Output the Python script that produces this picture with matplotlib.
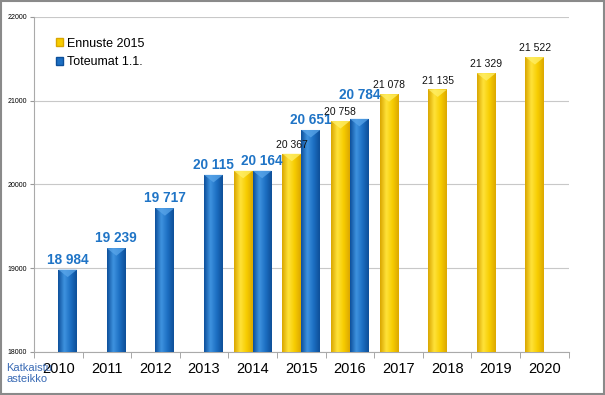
import numpy as np
import matplotlib.pyplot as plt
from matplotlib.colors import LinearSegmentedColormap
from matplotlib.patches import Patch

plt.rcParams['font.family'] = ['Liberation Sans', 'DejaVu Sans']

vuodet = ['2010', '2011', '2012', '2013', '2014', '2015', '2016',
          '2017', '2018', '2019', '2020']
ennuste = [np.nan, np.nan, np.nan, np.nan, 20164, 20367, 20758,
           21078, 21135, 21329, 21522]
toteumat = [18984, 19239, 19717, 20115, 20164, 20651, 20784,
            np.nan, np.nan, np.nan, np.nan]
pohja = 18000  # katkaistu asteikko

keltainen = '#f7cd00'
sininen = '#1c6fc2'
cmap_kelt = LinearSegmentedColormap.from_list('k', ['#d9a600', '#ffe23a', '#f7cd00', '#dca800'])
cmap_sin = LinearSegmentedColormap.from_list('s', ['#0d4f9a', '#3f93e0', '#1c6fc2', '#0e4f98'])


def varjosta(ax, palkit, cmap, karki):
    # liukuväri ja viistetty yläpää, jotta palkit näyttävät 3D:ltä
    grad = np.linspace(0, 1, 64).reshape(1, -1)
    for p in palkit:
        if np.isnan(p.get_height()):
            continue
        x0, y0 = p.get_x(), p.get_y()
        x1, y1 = x0 + p.get_width(), y0 + p.get_height()
        im = ax.imshow(grad, extent=[x0, x1, y0, y1], aspect='auto',
                       cmap=cmap, zorder=3, interpolation='bicubic')
        im.set_clip_path(p)
        p.set_facecolor('none')
        xc = (x0 + x1) / 2
        ax.fill([x0, x1, xc], [y1, y1, y1 - 90], color=karki, alpha=0.75,
                zorder=4, linewidth=0)


fig = plt.figure(figsize=(6.05, 3.95), dpi=100)
ax = fig.add_axes([0.056, 0.109, 0.884, 0.848])

x = np.arange(len(vuodet))
lev = 0.39
b1 = ax.bar(x - lev / 2, np.array(ennuste) - pohja, lev, bottom=pohja,
            color=keltainen, zorder=3)
b2 = ax.bar(x + lev / 2, np.array(toteumat) - pohja, lev, bottom=pohja,
            color=sininen, zorder=3)

varjosta(ax, b1, cmap_kelt, '#fff06a')
varjosta(ax, b2, cmap_sin, '#5aa6ea')
ax.set_ylim(18000, 22000)
ax.set_xlim(-0.5, len(vuodet) - 0.5)


def muotoile(v):
    return f'{int(v):,}'.replace(',', ' ')


for i, (e, t) in enumerate(zip(ennuste, toteumat)):
    yhta = not np.isnan(e) and not np.isnan(t) and e == t
    if not np.isnan(t):
        # nostetaan jos ennusteen arvo on lähes sama
        lahella = not np.isnan(e) and 0 < abs(e - t) < 150
        nosto = 200 if lahella else 35
        ax.text(x[i] + lev / 2, t + nosto, muotoile(t), ha='center', va='bottom',
                color='#1f74c6', fontsize=9.8, fontweight='bold', zorder=5)
    if not np.isnan(e) and not yhta:
        ax.text(x[i] - lev / 2, e + 45, muotoile(e), ha='center', va='bottom',
                color='#111111', fontsize=7.5, zorder=5)

ax.set_yticks([18000, 19000, 20000, 21000, 22000])
ax.set_yticklabels(['18000', '19000', '20000', '21000', '22000'], fontsize=5)
ax.yaxis.grid(True, color='#c8c8c8', linewidth=0.8, zorder=0)
ax.tick_params(axis='y', length=3, color='#999999', pad=2)

ax.set_xticks(x)
ax.set_xticklabels(vuodet, fontsize=10.5)
ax.set_xticks(np.arange(-0.5, len(vuodet)), minor=True)
ax.tick_params(axis='x', which='major', length=0, pad=7)
ax.tick_params(axis='x', which='minor', length=4, color='#999999')

for s in ['top', 'right']:
    ax.spines[s].set_visible(False)
for s in ['left', 'bottom']:
    ax.spines[s].set_color('#aaaaaa')
    ax.spines[s].set_linewidth(0.8)

kahvat = [Patch(facecolor=keltainen, edgecolor='#d9a600'),
          Patch(facecolor=sininen, edgecolor='#0d4f9a')]
ax.legend(kahvat, ['Ennuste 2015', 'Toteumat 1.1.'], loc='upper left',
          bbox_to_anchor=(0.021, 0.972), frameon=False, fontsize=9,
          handlelength=0.55, handleheight=0.55, handletextpad=0.3,
          labelspacing=0.55)

fig.text(0.01, 0.054, 'Katkaistu\nasteikko', color='#3a6bb5', fontsize=8,
         va='center', ha='left', linespacing=1.05)

reuna = plt.Rectangle((0.002, 0.003), 0.996, 0.994, transform=fig.transFigure,
                      fill=False, edgecolor='#8a8a8a', linewidth=1.5)
fig.patches.append(reuna)

fig.savefig('out.png', dpi=100)
